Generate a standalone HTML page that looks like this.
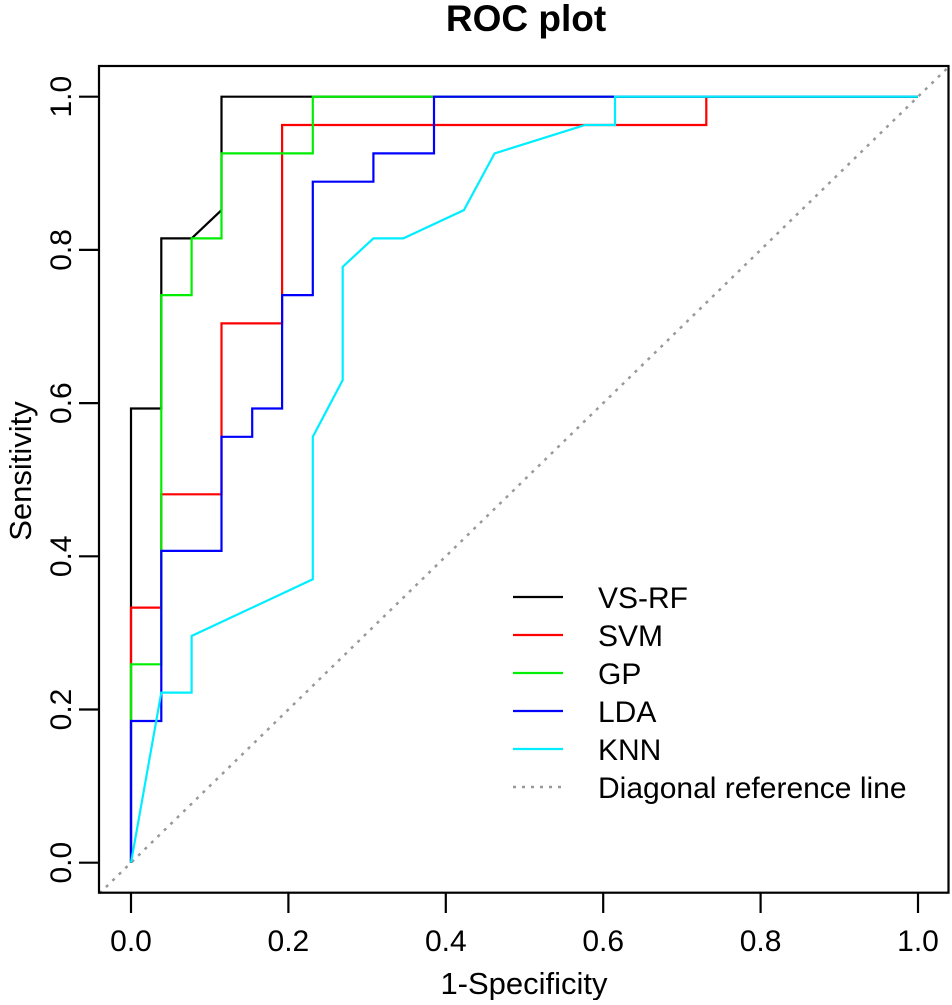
<!DOCTYPE html>
<html><head><meta charset="utf-8"><style>
body{margin:0;background:#fff}
svg text{font-family:"Liberation Sans",Arial,sans-serif;fill:#000}
</style></head><body>
<svg id="c" width="952" height="1000" viewBox="0 0 952 1000"></svg>
<script>
const xTicks=[0,0.2,0.4,0.6,0.8,1.0];
const yTicks=[0,0.2,0.4,0.6,0.8,1.0];
const seriesNames=["VS-RF","SVM","GP","LDA","KNN"];
const seriesColors=["#000000","#ff0000","#00ee00","#0000ff","#00eeff"];
const rfX=[0,0,0.0385,0.0385,0.077,0.115,0.115,1];
const rfY=[0,0.593,0.593,0.815,0.815,0.852,1,1];
const svmX=[0,0,0.0385,0.0385,0.115,0.115,0.192,0.192,0.731,0.731,1];
const svmY=[0,0.333,0.333,0.481,0.481,0.704,0.704,0.963,0.963,1,1];
const gpX=[0,0,0.0385,0.0385,0.077,0.077,0.115,0.115,0.231,0.231,1];
const gpY=[0,0.259,0.259,0.741,0.741,0.815,0.815,0.926,0.926,1,1];
const ldaX=[0,0,0.0385,0.0385,0.115,0.115,0.154,0.154,0.192,0.192,0.231,0.231,0.308,0.308,0.385,0.385,1];
const ldaY=[0,0.185,0.185,0.407,0.407,0.556,0.556,0.593,0.593,0.741,0.741,0.889,0.889,0.926,0.926,1,1];
const knnX=[0,0.0385,0.077,0.077,0.231,0.231,0.269,0.269,0.308,0.346,0.423,0.462,0.577,0.615,0.615,1];
const knnY=[0,0.222,0.222,0.296,0.370,0.556,0.630,0.778,0.815,0.815,0.852,0.926,0.963,0.963,1,1];
const seriesX=[rfX,svmX,gpX,ldaX,knnX];
const seriesY=[rfY,svmY,gpY,ldaY,knnY];

const svg=document.getElementById('c');
const NS='http://www.w3.org/2000/svg';
const sx=v=>131+v*787;
const sy=v=>862.7-v*766;
function mk(t,a,p){const e=document.createElementNS(NS,t);for(const k in a)e.setAttribute(k,a[k]);(p||svg).appendChild(e);return e;}

const diag=mk('line',{x1:sx(-0.04),y1:sy(-0.04),x2:sx(1.04),y2:sy(1.04),stroke:'#999',"stroke-width":2.5,"stroke-dasharray":"3,6"});



seriesNames.forEach((n,i)=>{
  const pts=seriesX[i].map((x,j)=>sx(x).toFixed(1)+','+sy(seriesY[i][j]).toFixed(1)).join(' ');
  const pl=mk('polyline',{points:pts,fill:'none',stroke:seriesColors[i],"stroke-width":2.2});
  
  
});

const box=mk('rect',{x:99,y:66,width:849.5,height:826.7,fill:'none',stroke:'#000',"stroke-width":2.2});



xTicks.forEach(v=>{
  const l=mk('line',{x1:sx(v),x2:sx(v),y1:893,y2:913,stroke:'#000',"stroke-width":2.2});
  
  
  const t=mk('text',{x:sx(v),y:951,"text-anchor":"middle","font-size":30});
  t.textContent=v.toFixed(1);
  
  
});
yTicks.forEach(v=>{
  const l=mk('line',{x1:79,x2:99,y1:sy(v),y2:sy(v),stroke:'#000',"stroke-width":2.2});
  
  
  const t=mk('text',{x:0,y:0,"text-anchor":"middle","font-size":30,transform:`translate(71,${sy(v)}) rotate(-90)`});
  t.textContent=v.toFixed(1);
  
  
});

const title=mk('text',{x:526,y:31,"text-anchor":"middle","font-size":37,"font-weight":"bold"});
title.textContent='ROC plot';


const xl=mk('text',{x:524,y:994,"text-anchor":"middle","font-size":31});
xl.textContent='1-Specificity';


const yl=mk('text',{x:0,y:0,"text-anchor":"middle","font-size":31,transform:'translate(31,471) rotate(-90)'});
yl.textContent='Sensitivity';



const legNames=seriesNames.concat(['Diagonal reference line']);
const legColors=seriesColors.concat(['#999']);
legNames.forEach((n,i)=>{
  const y=597+i*38;
  const g=mk('g',{});
  
  
  const a={x1:513,x2:563,y1:y,y2:y,stroke:legColors[i],"stroke-width":i==5?2.5:2.2};
  if(i==5)a["stroke-dasharray"]="3,6";
  mk('line',a,g);
  const t=mk('text',{x:598,y:y+11,"font-size":30},g);
  t.textContent=n;
});
</script>
</body></html>
